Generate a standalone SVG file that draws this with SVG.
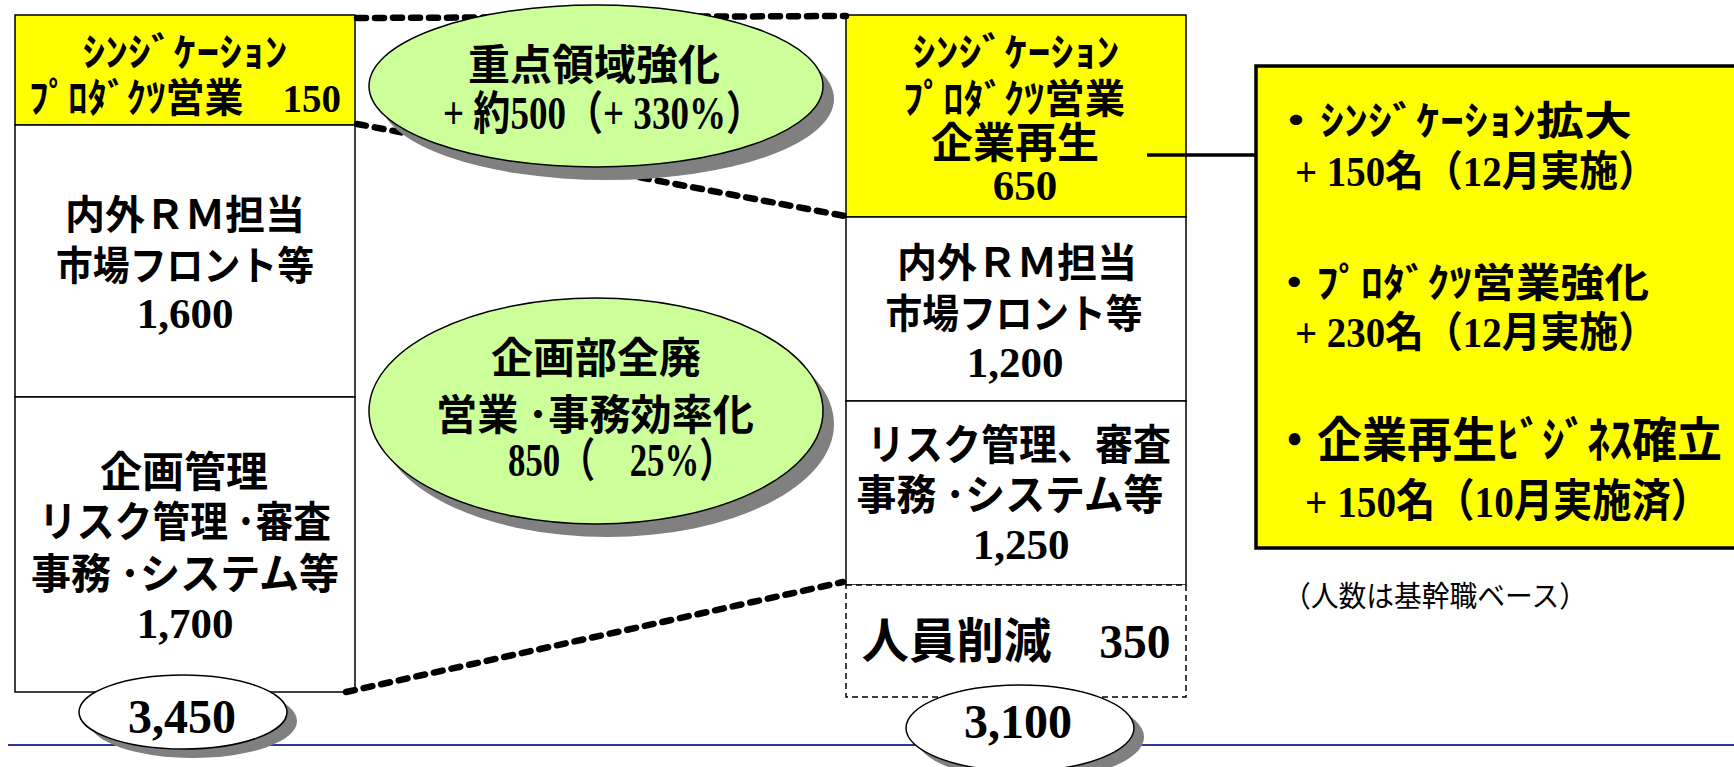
<svg xmlns="http://www.w3.org/2000/svg" width="1734" height="767" viewBox="0 0 1734 767">
<style>
text{font-weight:700;fill:#000}
.g{font-family:"Noto Sans CJK JP",sans-serif}
.n{font-family:"Liberation Serif","Noto Sans CJK JP",serif}
.c{text-anchor:middle}
.box{stroke:#000;stroke-width:1.5}
.yel{fill:#ffff00}
.wht{fill:#fff}
.dash{fill:#fff;stroke:#000;stroke-width:1.5;stroke-dasharray:6 4}
.conn{fill:none;stroke:#000;stroke-width:6.5;stroke-dasharray:9 9;stroke-linecap:round}
.solid{fill:none;stroke:#000;stroke-width:3.5}
.shadow{fill:#808080}
.green{fill:#ccff99;stroke:#000;stroke-width:1.5}
.oval{fill:#fff;stroke:#000;stroke-width:1.5}
.note{font-weight:400}
</style>
<line x1="8" y1="745" x2="1734" y2="745" stroke="#333399" stroke-width="2"/>

<g id="left-syndication">
<rect class="box yel" x="15" y="15" width="340" height="110"/>
<text class="g c" x="185" y="66" font-size="39" textLength="205" lengthAdjust="spacingAndGlyphs">ｼﾝｼﾞｹｰｼｮﾝ</text>
<text class="n c" x="185" y="112" font-size="40" textLength="312" lengthAdjust="spacingAndGlyphs">ﾌﾟﾛﾀﾞｸﾂ営業　150</text>
</g>
<g id="left-front">
<rect class="box wht" x="15" y="125" width="340" height="272"/>
<text class="g c" x="185" y="229" font-size="40" textLength="240" lengthAdjust="spacingAndGlyphs">内外ＲＭ担当</text>
<text class="g c" x="185" y="280" font-size="40" textLength="258" lengthAdjust="spacingAndGlyphs">市場フロント等</text>
<text class="n c" x="185" y="328" font-size="43">1,600</text>
</g>
<g id="left-planning">
<rect class="box wht" x="15" y="397" width="340" height="295"/>
<text class="g c" x="184" y="487" font-size="42">企画管理</text>
<text class="g c" x="185" y="537" font-size="42" textLength="292" lengthAdjust="spacingAndGlyphs">リスク管理 ･審査</text>
<text class="g c" x="185" y="589" font-size="42" textLength="308" lengthAdjust="spacingAndGlyphs">事務 ･システム等</text>
<text class="n c" x="185" y="638" font-size="43">1,700</text>
</g>

<g id="right-syndication">
<rect class="box yel" x="846" y="15" width="340" height="202"/>
<text class="g c" x="1016" y="66" font-size="39" textLength="207" lengthAdjust="spacingAndGlyphs">ｼﾝｼﾞｹｰｼｮﾝ</text>
<text class="g c" x="1014" y="113" font-size="40" textLength="222" lengthAdjust="spacingAndGlyphs">ﾌﾟﾛﾀﾞｸﾂ営業</text>
<text class="g c" x="1015" y="158" font-size="42">企業再生</text>
<text class="n c" x="1025" y="200" font-size="43">650</text>
</g>
<g id="right-front">
<rect class="box wht" x="846" y="217" width="340" height="184"/>
<text class="g c" x="1017" y="277" font-size="40" textLength="240" lengthAdjust="spacingAndGlyphs">内外ＲＭ担当</text>
<text class="g c" x="1014" y="328" font-size="40" textLength="257" lengthAdjust="spacingAndGlyphs">市場フロント等</text>
<text class="n c" x="1015" y="377" font-size="43">1,200</text>
</g>
<g id="right-risk">
<rect class="box wht" x="846" y="401" width="340" height="184"/>
<text class="g c" x="1019" y="460" font-size="42" textLength="304" lengthAdjust="spacingAndGlyphs">リスク管理、審査</text>
<text class="g c" x="1010" y="510" font-size="42" textLength="307" lengthAdjust="spacingAndGlyphs">事務 ･システム等</text>
<text class="n c" x="1021" y="559" font-size="43">1,250</text>
</g>
<g id="right-reduction">
<rect class="dash" x="846" y="585" width="340" height="112"/>
<text class="n c" x="1016" y="658" font-size="48" textLength="309" lengthAdjust="spacingAndGlyphs">人員削減　350</text>
</g>

<g id="connectors">
<line class="conn" x1="357" y1="18" x2="846" y2="16"/>
<line class="conn" x1="357" y1="124" x2="845" y2="216"/>
<line class="conn" x1="346" y1="692" x2="843" y2="582"/>
<line class="solid" x1="1147" y1="155" x2="1256" y2="155"/>
</g>

<g id="ellipse-strengthen">
<ellipse class="shadow" cx="607" cy="99" rx="227" ry="81"/>
<ellipse class="green" cx="596" cy="86" rx="227" ry="81"/>
<text class="g c" x="594" y="80" font-size="42">重点領域強化</text>
<text class="n c" x="603" y="129" font-size="46" textLength="320" lengthAdjust="spacingAndGlyphs">+ 約500（+ 330%）</text>
</g>
<g id="ellipse-efficiency">
<ellipse class="shadow" cx="607" cy="424" rx="227" ry="113"/>
<ellipse class="green" cx="596" cy="411" rx="227" ry="113"/>
<text class="g c" x="596" y="373" font-size="42">企画部全廃</text>
<text class="g c" x="595" y="430" font-size="42" textLength="318" lengthAdjust="spacingAndGlyphs">営業 ･事務効率化</text>
<text class="n c" x="621" y="476" font-size="46" textLength="226" lengthAdjust="spacingAndGlyphs">850（　25%）</text>
</g>

<g id="total-left">
<ellipse class="shadow" cx="193" cy="721" rx="104" ry="37"/>
<ellipse class="oval" cx="183" cy="712" rx="104" ry="37"/>
<text class="n c" x="182" y="733" font-size="48">3,450</text>
</g>
<g id="total-right">
<ellipse class="shadow" cx="1030" cy="737" rx="114" ry="43"/>
<ellipse class="oval" cx="1020" cy="728" rx="114" ry="43"/>
<text class="n c" x="1018" y="738" font-size="48">3,100</text>
</g>

<g id="detail-box">
<rect class="yel" stroke="#000" stroke-width="3.5" x="1256" y="66" width="500" height="482"/>
<text class="g" x="1272" y="135" font-size="40" textLength="360" lengthAdjust="spacingAndGlyphs">・ｼﾝｼﾞｹｰｼｮﾝ拡大</text>
<text class="n" x="1295" y="186" font-size="42" textLength="362" lengthAdjust="spacingAndGlyphs">+ 150名（12月実施）</text>
<text class="g" x="1272" y="297" font-size="40" textLength="377" lengthAdjust="spacingAndGlyphs">・ﾌﾟﾛﾀﾞｸﾂ営業強化</text>
<text class="n" x="1295" y="347" font-size="42" textLength="362" lengthAdjust="spacingAndGlyphs">+ 230名（12月実施）</text>
<text class="g" x="1272" y="457" font-size="48" textLength="450" lengthAdjust="spacingAndGlyphs">・企業再生ﾋﾞｼﾞﾈｽ確立</text>
<text class="n" x="1305" y="517" font-size="45" textLength="405" lengthAdjust="spacingAndGlyphs">+ 150名（10月実施済）</text>
</g>

<g id="note">
<text class="g note" x="1283" y="607" font-size="29" textLength="304" lengthAdjust="spacingAndGlyphs">（人数は基幹職ベース）</text>
</g>
</svg>
